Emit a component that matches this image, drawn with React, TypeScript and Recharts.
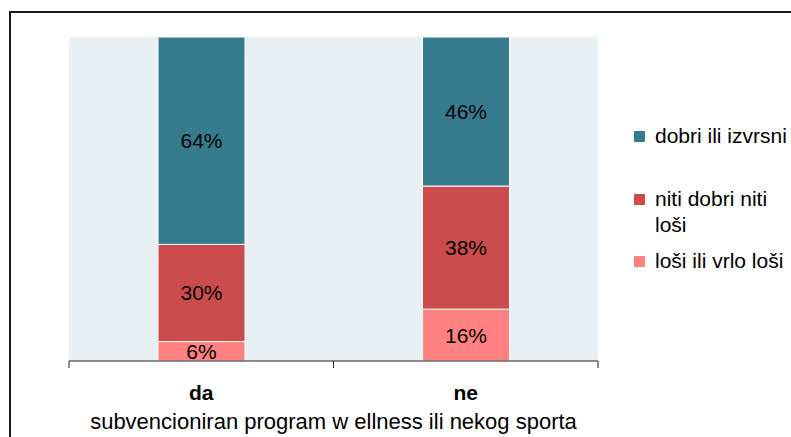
import React from 'react';
import { BarChart, Bar, XAxis, YAxis, CartesianGrid, LabelList } from 'recharts';

const categories = ['da', 'ne'];
const goodValues = [64, 46];
const neutralValues = [30, 38];
const badValues = [6, 16];

const seriesNames = ['loši ili vrlo loši', 'niti dobri niti loši', 'dobri ili izvrsni'];
const seriesColors = ['#FF8080', '#CC4C4C', '#377B8F'];
const axisTitle = 'subvencioniran program w ellness ili nekog sporta';

const W = 791;
const H = 437;
const margin = { top: 37, right: 193, left: 69, bottom: 0 };
const band = (W - margin.left - margin.right) / categories.length;
const font = '"Liberation Sans", Arial, sans-serif';

const data = categories.map((c, i) => ({
  name: c,
  bad: badValues[i],
  neutral: neutralValues[i],
  good: goodValues[i],
}));

const CategoryTick = ({ x, y, payload }: any) => (
  <g>
    <line x1={x - band / 2} x2={x - band / 2} y1={y - 8} y2={y - 1} stroke="#222" />
    <line x1={x + band / 2} x2={x + band / 2} y1={y - 8} y2={y - 1} stroke="#222" />
    <text x={x} y={y} dy={31} textAnchor="middle" fontWeight="bold" fontSize={21} fill="#000" fontFamily={font}>
      {payload.value}
    </text>
  </g>
);

// legend drawn outside the chart so it does not shrink the plot
const LegendBox = () => {
  const order = [2, 1, 0];
  const gaps = [0, 37, 10];
  return (
    <div style={{ position: 'absolute', left: 634, top: 123, fontFamily: font, fontSize: 21, color: '#000', width: 157 }}>
      {order.map((s, k) => (
        <div key={s} style={{ display: 'flex', alignItems: 'flex-start', marginTop: gaps[k], lineHeight: '26px' }}>
          <div style={{ width: 11, height: 11, background: seriesColors[s], marginTop: 8, marginRight: 10, flex: 'none' }} />
          <div style={{ width: 140 }}>{seriesNames[s]}</div>
        </div>
      ))}
    </div>
  );
};

export default function App() {
  return (
    <div style={{ position: 'absolute', left: 0, top: 0, width: W, height: H, overflow: 'hidden', background: '#fff' }}>
      <div style={{ position: 'absolute', left: 9, top: 11, width: 900, height: 600, border: '2px solid #1a1a1a' }} />
      <div style={{ position: 'absolute', left: 0, top: 0 }}>
        <BarChart width={W} height={H} data={data} margin={margin} barSize={87} style={{ fontFamily: font }}>
          <CartesianGrid fill="#E8F0F4" stroke="none" horizontal={false} vertical={false} />
          <YAxis hide domain={[0, 100]} />
          <XAxis
            dataKey="name"
            height={76}
            tickLine={false}
            axisLine={{ stroke: '#222' }}
            tick={<CategoryTick />}
            interval={0}
            label={{ value: axisTitle, position: 'insideBottom', offset: 8, fill: '#000', fontSize: 22, fontFamily: font }}
          />
          {(['bad', 'neutral', 'good'] as const).map((k, i) => (
            <Bar key={k} dataKey={k} name={seriesNames[i]} stackId="a" fill={seriesColors[i]} stroke="#fff" strokeWidth={1} isAnimationActive={false}>
              <LabelList dataKey={k} position="center" formatter={(v: any) => `${v}%`} fill="#000" fontSize={21} fontFamily={font} />
            </Bar>
          ))}
        </BarChart>
      </div>
      <LegendBox />
    </div>
  );
}
